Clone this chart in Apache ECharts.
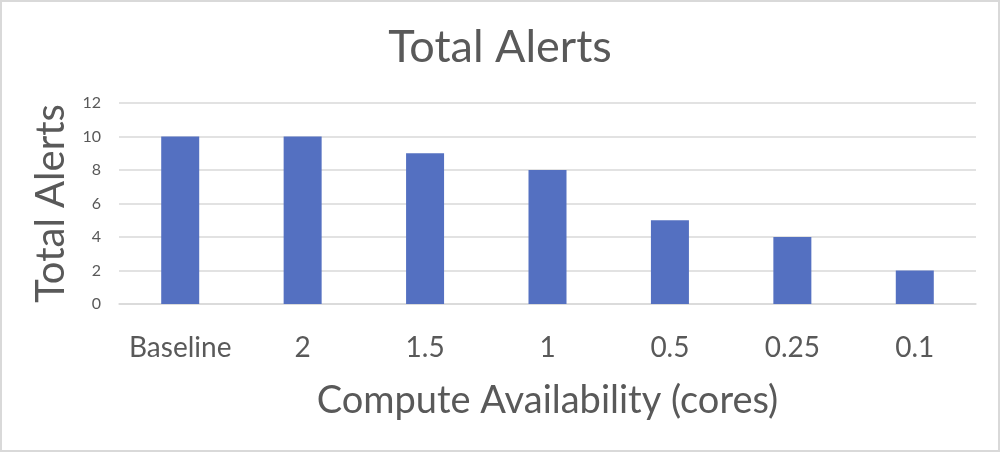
<!DOCTYPE html>
<html>
<head>
    <meta charset="utf-8">
    <script src="https://cdn.jsdelivr.net/npm/echarts@6/dist/echarts.min.js"></script>
    <style>
        html, body { margin: 0; padding: 0; background: #fff; }
        #main { width: 1000px; height: 452px; box-sizing: border-box; border: 2px solid #d9d9d9; }
    </style>
</head>
<body>
<div id="main"></div>
<script type="text/javascript">
    // data
    var categories = ['Baseline', '2', '1.5', '1', '0.5', '0.25', '0.1'];
    var alerts = [10, 10, 9, 8, 5, 4, 2];

    var myChart = echarts.init(document.getElementById('main'));
    var textGray = '#595959';
    var font = 'Lato';

    myChart.setOption({
        animation: false,
        title: {
            text: 'Total Alerts',
            left: 'center',
            top: 18,
            textStyle: { fontFamily: font, fontSize: 45, fontWeight: 'normal', color: textGray }
        },
        grid: { left: 117, right: 22, top: 101, bottom: 146 },
        xAxis: {
            type: 'category',
            data: categories,
            name: 'Compute Availability (cores)',
            nameLocation: 'middle',
            nameGap: 78,
            nameTextStyle: { fontFamily: font, fontSize: 38, color: textGray },
            axisLine: { lineStyle: { color: '#d9d9d9', width: 1.5 } },
            axisTick: { show: false },
            axisLabel: { interval: 0, fontFamily: font, fontSize: 28, color: textGray, margin: 30 }
        },
        yAxis: {
            type: 'value',
            min: 0,
            max: 12,
            interval: 2,
            name: 'Total Alerts',
            nameLocation: 'middle',
            nameGap: 41,
            nameTextStyle: { fontFamily: font, fontSize: 40, color: textGray },
            axisLine: { show: false },
            axisTick: { show: false },
            axisLabel: { fontFamily: font, fontSize: 16, color: textGray, margin: 18 },
            splitLine: { lineStyle: { color: '#d9d9d9', width: 1.5 } }
        },
        series: [{
            type: 'bar',
            data: alerts,
            barWidth: 38,
            itemStyle: { color: '#5470c1' }
        }]
    });
</script>
</body>
</html>
